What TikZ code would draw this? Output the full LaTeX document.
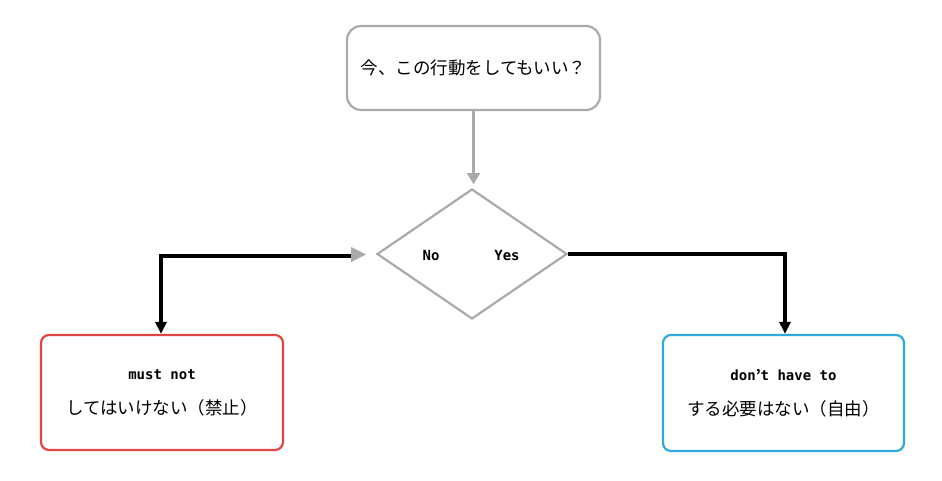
\documentclass[tikz,border=0pt]{standalone}
\usepackage{fontspec}
\newfontfamily\cjk{Noto Sans CJK JP}
\setmonofont{DejaVu Sans Mono}
\usetikzlibrary{shapes.geometric,arrows.meta}
\begin{document}
\begin{tikzpicture}[x=1pt,y=-1pt,
  box/.style={draw,line width=2.2pt,rounded corners=8pt,minimum width=#1},
  blk/.style={line width=3.5pt,-{Triangle[length=12pt,width=11pt]}},
  mono/.style={font=\ttfamily\bfseries\fontsize{14}{16}\selectfont},
  font=\cjk\fontsize{17.5}{35}\selectfont]
\useasboundingbox[fill=white] (0,0) rectangle (942,481);
\definecolor{gr}{RGB}{170,170,172}
\definecolor{rd}{RGB}{226,70,68}
\definecolor{bl}{RGB}{48,170,220}
\node[box=253pt,draw=gr,minimum height=84pt,rounded corners=14pt] (q) at (473.5,68) {今、この行動をしてもいい？};
\node[draw=gr,line width=2.2pt,diamond,aspect=1.46,minimum width=190pt,minimum height=130pt,inner sep=0pt] (d) at (472,254) {};
\node[mono] (no) at (431,255) {No};
\node[mono] (yes) at (507,255) {Yes};
\node[box=242pt,draw=rd,minimum height=115pt,align=center] (m) at (162,392.5) {{\ttfamily\bfseries\fontsize{14}{16}\selectfont must not}\\してはいけない（禁止）};
\node[box=241pt,draw=bl,minimum height=116pt,align=center] (h) at (783.5,393) {{\ttfamily\bfseries\fontsize{14}{16}\selectfont don{\cjk ’}t have to}\\する必要はない（自由）};
\draw[gr,line width=2.2pt,-{Triangle[length=11pt,width=13pt]}] (q.south) -- ++(0,73) coordinate (qe);
\coordinate (lj) at (352,256);
\draw[blk,line cap=butt] (lj) -- (161,256) -- (m.north-|161,0);
\fill[gr] (351,247) -- (366,254.5) -- (351,262) -- cycle;
\draw[blk] (d.east) -- (785,254) -- (h.north-|785,0);
\end{tikzpicture}
\end{document}
